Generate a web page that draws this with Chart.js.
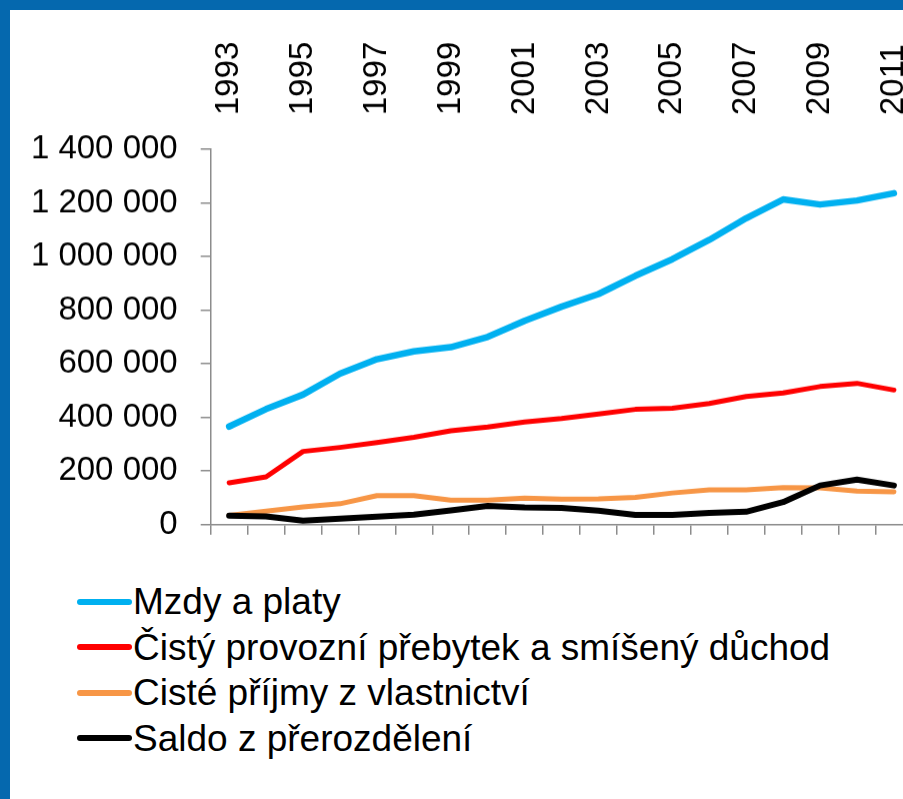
<!DOCTYPE html>
<html lang="cs">
<head>
  <meta charset="UTF-8">
  <title>Příjmy domácností 1993–2011</title>
  <script src="https://cdn.jsdelivr.net/npm/chart.js"></script>
  <style>
    html, body { margin: 0; padding: 0; }
    body {
      width: 903px; height: 799px; overflow: hidden; position: relative;
      background: #fff; font-family: 'Liberation Sans', Arial, sans-serif;
    }
    .frame-top { position: absolute; left: 0; top: 0; width: 903px; height: 10px; background: #0568ae; z-index: 2; }
    .frame-left { position: absolute; left: 0; top: 0; width: 10px; height: 799px; background: #0568ae; z-index: 2; }
    #chartBox { position: absolute; left: 10px; top: 10px; width: 918px; height: 556.5px; }
    #legend { position: absolute; left: 77px; top: 579px; font-size: 37px; line-height: 45.5px; color: #000; }
    #legend .item { display: flex; align-items: center; white-space: nowrap; }
    #legend .swatch { display: inline-block; width: 55px; height: 6px; border-radius: 3px; margin-right: 1px; }
  </style>
</head>
<body>
  <div class="frame-top"></div>
  <div class="frame-left"></div>
  <div id="chartBox"><canvas id="incomeChart"></canvas></div>
  <div id="legend"></div>

  <script>
    const years = ['1993', '1994', '1995', '1996', '1997', '1998', '1999', '2000', '2001', '2002',
                   '2003', '2004', '2005', '2006', '2007', '2008', '2009', '2010', '2011'];
    const mzdy = [366000, 431000, 485000, 563000, 617000, 646000, 662000, 700000, 760000, 813000,
                  860000, 928000, 990000, 1062000, 1143000, 1213000, 1194000, 1209000, 1236000];
    const prebytek = [156000, 178000, 273000, 288000, 306000, 326000, 350000, 364000, 383000, 396000,
                      413000, 430000, 434000, 452000, 478000, 491000, 515000, 527000, 502000];
    const vlastnictvi = [34000, 50000, 66000, 78000, 108000, 108000, 91000, 91000, 99000, 95000,
                         96000, 102000, 118000, 130000, 130000, 138000, 137000, 125000, 122000];
    const saldo = [33000, 31000, 15000, 22000, 30000, 37000, 53000, 70000, 64000, 62000,
                   52000, 36000, 36000, 44000, 48000, 84000, 146000, 168000, 146000];
    const yTicks = [0, 200000, 400000, 600000, 800000, 1000000, 1200000, 1400000];

    Chart.defaults.font.family = "'Liberation Sans', Arial, sans-serif";
    Chart.defaults.color = '#000';

    const axisGrey = '#8c8c8c';

    // legend is built as html so each item gets its own row
    const htmlLegend = {
      id: 'htmlLegend',
      afterUpdate(chart) {
        const box = document.getElementById('legend');
        box.innerHTML = '';
        const items = chart.options.plugins.legend.labels.generateLabels(chart);
        items.sort((a, b) => a.datasetIndex - b.datasetIndex);
        items.forEach(item => {
          const row = document.createElement('div');
          row.className = 'item';
          const swatch = document.createElement('span');
          swatch.className = 'swatch';
          swatch.style.background = item.strokeStyle;
          const text = document.createElement('span');
          text.textContent = item.text;
          row.append(swatch, text);
          box.appendChild(row);
        });
      }
    };

    function line(label, data, color, width, order) {
      return {
        label: label,
        data: data,
        borderColor: color,
        backgroundColor: color,
        borderWidth: width,
        pointRadius: 0,
        tension: 0,
        borderJoinStyle: 'round',
        borderCapStyle: 'round',
        order: order,
        xAxisID: 'x',
        yAxisID: 'y'
      };
    }

    new Chart(document.getElementById('incomeChart'), {
      type: 'line',
      data: {
        labels: years,
        datasets: [
          line('Mzdy a platy', mzdy, '#00b0f0', 6.5, 1),
          line('Čistý provozní přebytek a smíšený důchod', prebytek, '#ff0000', 5, 1),
          line('Cisté příjmy z vlastnictví', vlastnictvi, '#f79646', 5, 2),
          line('Saldo z přerozdělení', saldo, '#000000', 6, 0)
        ]
      },
      options: {
        responsive: true,
        maintainAspectRatio: false,
        animation: false,
        layout: { padding: { left: 20, top: 31.6, right: 0, bottom: 16 } },
        scales: {
          // bottom axis only carries the tick marks between years
          x: {
            type: 'category',
            position: 'bottom',
            offset: true,
            ticks: { display: false },
            grid: { drawOnChartArea: false, offset: true, tickLength: 10, color: axisGrey, lineWidth: 1.5 },
            border: { color: axisGrey, width: 1.5 },
            afterFit: axis => { axis.height = 10; }
          },
          // year labels sit above the plot, every other year
          x2: {
            type: 'category',
            position: 'top',
            offset: true,
            grid: { display: false, drawTicks: false },
            border: { display: false },
            ticks: {
              autoSkip: false,
              minRotation: 90,
              maxRotation: 90,
              padding: 34,
              labelOffset: 39.6,
              font: { size: 33 },
              callback: (v, i) => (i % 2 === 0 ? years[i] : '')
            },
            afterFit: axis => { axis.height = 107.4; }
          },
          y: {
            min: 0,
            max: 1400000,
            afterBuildTicks: axis => { axis.ticks = yTicks.map(v => ({ value: v })); },
            ticks: {
              padding: 23,
              font: { size: 33 },
              callback: v => String(v).replace(/\B(?=(\d{3})+(?!\d))/g, ' ')
            },
            grid: { drawOnChartArea: false, tickLength: 10, color: axisGrey, lineWidth: 1.5 },
            border: { color: axisGrey, width: 1.5 },
            afterFit: axis => { axis.width = 180.7; }
          }
        },
        plugins: {
          legend: { display: false },
          tooltip: { enabled: false }
        }
      },
      plugins: [htmlLegend]
    });
  </script>
</body>
</html>
